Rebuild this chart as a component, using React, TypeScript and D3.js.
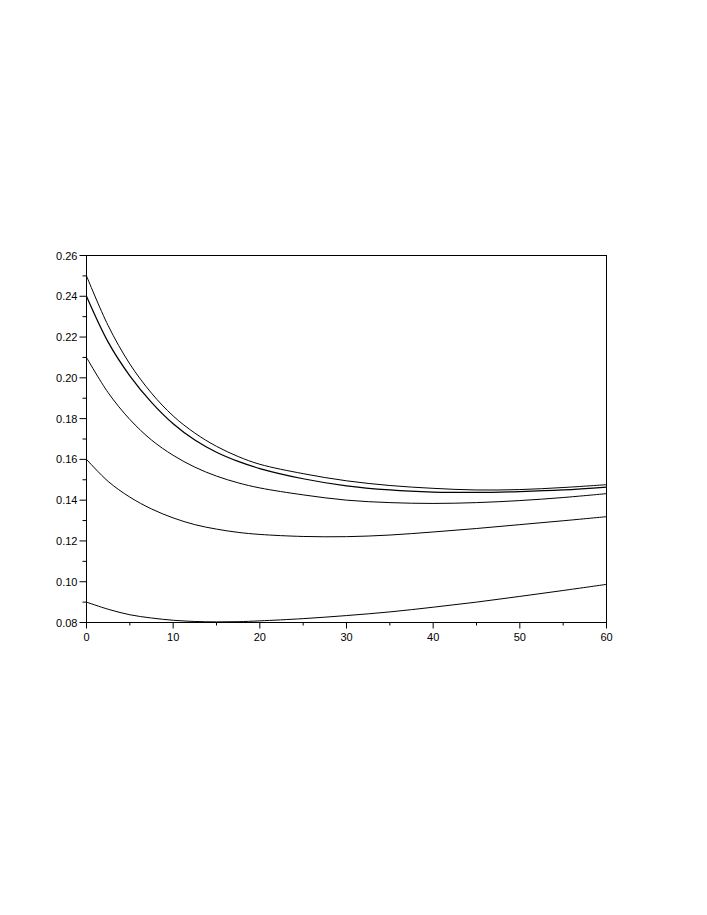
import React from "react";
import * as d3 from "d3";

// horizon values (x axis)
const times = [0, 2.5, 5, 7.5, 10, 12.5, 15, 17.5, 20, 25, 30, 35, 40, 45, 50, 55, 60];

// one curve per starting level
const curve025 = [0.25, 0.2256, 0.2068, 0.1925, 0.1813, 0.1729, 0.1664, 0.1614, 0.1576, 0.153, 0.1495, 0.1472, 0.1458, 0.145, 0.1452, 0.1462, 0.1476];
const curve024 = [0.24, 0.2175, 0.201, 0.188, 0.1775, 0.1695, 0.1635, 0.159, 0.1555, 0.1505, 0.147, 0.145, 0.144, 0.1438, 0.1442, 0.145, 0.1464];
const curve021 = [0.21, 0.1927, 0.1796, 0.1695, 0.162, 0.1562, 0.1518, 0.1485, 0.146, 0.1426, 0.14, 0.1388, 0.1384, 0.1388, 0.1398, 0.1413, 0.1432];
const curve016 = [0.16, 0.1492, 0.1415, 0.1357, 0.1313, 0.128, 0.1258, 0.1242, 0.1232, 0.1222, 0.1221, 0.1229, 0.1244, 0.1261, 0.128, 0.1299, 0.1319];
const curve009 = [0.09, 0.0865, 0.0838, 0.0822, 0.0811, 0.0805, 0.0803, 0.0804, 0.0808, 0.0819, 0.0834, 0.0852, 0.0875, 0.09, 0.0928, 0.0957, 0.0987];

const series = [curve025, curve024, curve021, curve016, curve009];

const xTicks = [0, 10, 20, 30, 40, 50, 60];
const xMinor = [5, 15, 25, 35, 45, 55];
const yTicks = [0.08, 0.1, 0.12, 0.14, 0.16, 0.18, 0.2, 0.22, 0.24, 0.26];
const yMinor = [0.09, 0.11, 0.13, 0.15, 0.17, 0.19, 0.21, 0.23, 0.25];

const W = 707;
const H = 915;

export default function App() {
  const x = d3.scaleLinear().domain([0, 60]).range([86.5, 606.5]);
  const y = d3.scaleLinear().domain([0.08, 0.26]).range([622.5, 255.5]);

  const line = d3
    .line<number>()
    .x((_, i) => x(times[i]))
    .y((d) => y(d))
    .curve(d3.curveCatmullRom.alpha(0.5));

  const font = "Liberation Sans, Arial, Helvetica, sans-serif";

  return (
    <svg
      width={W}
      height={H}
      style={{ position: "absolute", left: 0, top: 0, background: "#fff" }}
    >
      {/* frame */}
      <rect
        x={x(0)}
        y={y(0.26)}
        width={x(60) - x(0)}
        height={y(0.08) - y(0.26)}
        fill="none"
        stroke="#000"
        strokeWidth={1}
      />

      {/* y ticks */}
      {yTicks.map((t) => (
        <g key={"y" + t}>
          <line x1={x(0) - 7} x2={x(0)} y1={y(t)} y2={y(t)} stroke="#000" />
          <text
            x={x(0) - 9}
            y={y(t) + 4}
            textAnchor="end"
            fontFamily={font}
            fontSize={11}
            fill="#000"
          >
            {t.toFixed(2)}
          </text>
        </g>
      ))}
      {yMinor.map((t) => (
        <line key={"ym" + t} x1={x(0) - 4} x2={x(0)} y1={y(t)} y2={y(t)} stroke="#000" />
      ))}

      {/* x ticks */}
      {xTicks.map((t) => (
        <g key={"x" + t}>
          <line x1={x(t)} x2={x(t)} y1={y(0.08)} y2={y(0.08) + 6} stroke="#000" />
          <text
            x={x(t)}
            y={y(0.08) + 18}
            textAnchor="middle"
            fontFamily={font}
            fontSize={11}
            fill="#000"
          >
            {t}
          </text>
        </g>
      ))}
      {xMinor.map((t) => (
        <line key={"xm" + t} x1={x(t)} x2={x(t)} y1={y(0.08)} y2={y(0.08) + 3} stroke="#000" />
      ))}

      {/* curves */}
      {series.map((s, i) => (
        <path
          key={i}
          d={line(s) || ""}
          fill="none"
          stroke="#000"
          strokeWidth={i === 1 ? 1.25 : 1}
        />
      ))}
    </svg>
  );
}
